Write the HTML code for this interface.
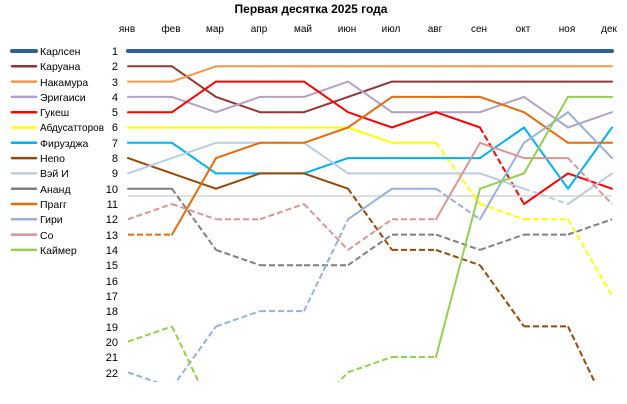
<!DOCTYPE html>
<html><head><meta charset="utf-8"><style>
body{margin:0;background:#fff;}
svg{display:block;font-family:"Liberation Sans",Arial,sans-serif;}
</style></head><body>
<svg id="s" width="627" height="404" viewBox="0 0 627 404" xmlns="http://www.w3.org/2000/svg">
<defs><clipPath id="c"><rect x="0" y="40" width="627" height="342"/></clipPath></defs>
<text x="311" y="13" font-size="12" font-weight="bold" text-anchor="middle">Первая десятка 2025 года</text>
<g font-size="10" text-anchor="middle">
<text x="127" y="32">янв</text><text x="171" y="32">фев</text><text x="215" y="32">мар</text><text x="259" y="32">апр</text><text x="303" y="32">май</text><text x="347" y="32">июн</text><text x="391" y="32">июл</text><text x="435" y="32">авг</text><text x="479" y="32">сен</text><text x="523" y="32">окт</text><text x="567" y="32">ноя</text><text x="609" y="32">дек</text>
</g>
<g font-size="10.5" id="leg">
<text x="40" y="55">Карлсен</text><text x="40" y="70">Каруана</text><text x="40" y="86">Накамура</text><text x="40" y="101">Эригаиси</text><text x="40" y="116">Гукеш</text><text x="40" y="131" textLength="64" lengthAdjust="spacingAndGlyphs">Абдусатторов</text><text x="40" y="147">Фирузджа</text><text x="40" y="162">Непо</text><text x="40" y="177">Вэй И</text><text x="40" y="193">Ананд</text><text x="40" y="208">Прагг</text><text x="40" y="223">Гири</text><text x="40" y="239">Со</text><text x="40" y="254">Каймер</text>
</g>
<g font-size="11" text-anchor="end">
<text x="118" y="55">1</text><text x="118" y="70">2</text><text x="118" y="86">3</text><text x="118" y="101">4</text><text x="118" y="116">5</text><text x="118" y="131">6</text><text x="118" y="147">7</text><text x="118" y="162">8</text><text x="118" y="177">9</text><text x="118" y="193">10</text><text x="118" y="208">11</text><text x="118" y="223">12</text><text x="118" y="239">13</text><text x="118" y="254">14</text><text x="118" y="269">15</text><text x="118" y="285">16</text><text x="118" y="300">17</text><text x="118" y="315">18</text><text x="118" y="331">19</text><text x="118" y="346">20</text><text x="118" y="361">21</text><text x="118" y="377">22</text>
</g>
<line x1="128" y1="196" x2="612" y2="196" stroke="#bfbfbf" stroke-width="1"/>
<g id="lines" clip-path="url(#c)" fill="none" stroke-linejoin="round"></g>
<g id="legl"></g>
</svg>
<script>
var S=[
["#2f5f98",[1,1,1,1,1,1,1,1,1,1,1,1],4],
["#943634",[2,2,4,5,5,4,3,3,3,3,3,3],2],
["#f79646",[3,3,2,2,2,2,2,2,2,2,2,2],2],
["#b3a2c7",[4,4,5,4,4,3,5,5,5,4,6,5],2],
["#ff0000",[5,5,3,3,3,5,6,5,6,11,9,10],2],
["#ffff00",[6,6,6,6,6,6,7,7,11,12,12,17],2],
["#00b0f0",[7,7,9,9,9,8,8,8,8,6,10,6],2],
["#984807",[8,9,10,9,9,10,14,14,15,19,19,25],2],
["#b9cde5",[9,8,7,7,7,9,9,9,9,10,11,9],2],
["#7f7f7f",[10,10,14,15,15,15,13,13,14,13,13,12],2],
["#e46c0a",[13,13,8,7,7,6,4,4,4,5,7,7],2],
["#95b3d7",[22,23,19,18,18,12,10,10,12,7,5,8],2],
["#d99694",[12,11,12,12,11,14,12,12,7,8,8,11],2],
["#92d050",[20,19,25,25,25,22,21,21,10,9,4,4],2]
];
function X(i){return 128+44*i}
function Y(r){return 51+15.3*(r-1)}
var g=document.getElementById('lines'),lg=document.getElementById('legl'),h='',l='';
S.forEach(function(s,k){
 var c=s[0],d=s[1],w=s[2];
 for(var i=0;i<11;i++){
  var dash=d[i+1]>10?' stroke-dasharray="6,3"':'';
  h+='<line x1="'+X(i)+'" y1="'+Y(d[i])+'" x2="'+X(i+1)+'" y2="'+Y(d[i+1])+'" stroke="'+c+'" stroke-width="'+w+'"'+dash+' stroke-linecap="'+(dash?'butt':'round')+'"/>';
 }
 var y=Y(k+1);
 l+='<line x1="12" y1="'+y+'" x2="36" y2="'+y+'" stroke="'+c+'" stroke-width="'+(k==0?4:2.5)+'" stroke-linecap="round"/>';
});
g.innerHTML=h;lg.innerHTML=l;
</script>
</body></html>
